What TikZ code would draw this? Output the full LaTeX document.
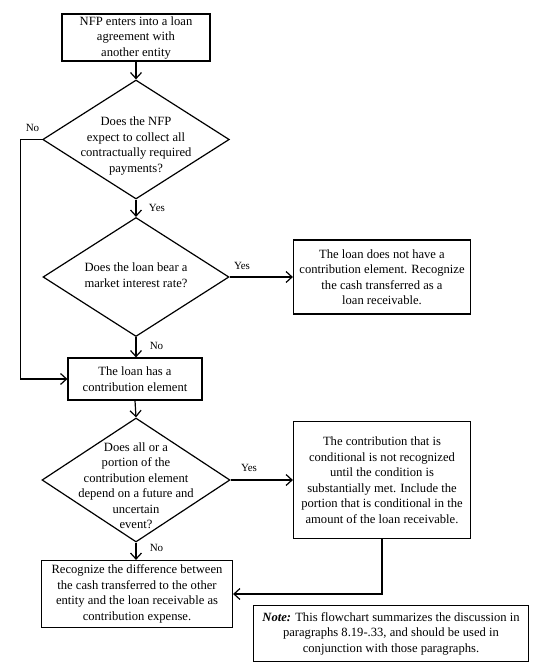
\documentclass[tikz,border=0pt]{standalone}
\usepackage{fontspec}
\setmainfont{Liberation Serif}
\usetikzlibrary{shapes.geometric,arrows.meta}
\begin{document}
\begin{tikzpicture}[x=1pt,y=-1pt,
  every node/.style={font=\fontsize{12.6}{15.5}\selectfont},
  box/.style={draw,line width=1.2pt,align=center,inner sep=0pt},
  dia/.style={draw,diamond,line width=1.2pt,inner sep=0pt},
  dtext/.style={align=center,inner sep=0pt},
  lbl/.style={font=\fontsize{11}{13}\selectfont,inner sep=0pt},
  arr/.style={line width=1.2pt,-{Straight Barb[length=6pt,width=11pt,line width=1.2pt]}}]
\useasboundingbox (0,0) rectangle (540,666);

\node[box,minimum width=148pt,minimum height=47pt] (b1) at (136,37.5) {NFP enters into a loan\\agreement with\\another entity};
\node[dia,minimum width=186.6pt,minimum height=119pt] (d1) at (136,139.5) {};
\node[dtext] (d1t) at (136,146) {Does the NFP\\expect to collect all\\contractually required\\payments?};
\node[dia,minimum width=186pt,minimum height=119pt] (d2) at (136,277) {};
\node[dtext] (d2t) at (136,275) {Does the loan bear a\\market interest rate?};
\node[box,minimum width=177pt,minimum height=74pt] (r1) at (382,277) {The loan does not have a\\contribution element. Recognize\\the cash transferred as a\\loan receivable.};
\node[box,minimum width=134pt,minimum height=42pt] (b2) at (135,379) {The loan has a\\contribution element};
\node[dia,minimum width=188pt,minimum height=124pt] (d3) at (136,480) {};
\node[dtext] (d3t) at (136,485.5) {Does all or a\\portion of the\\contribution element\\depend on a future and\\uncertain\\event?};
\node[box,minimum width=177pt,minimum height=117pt] (r2) at (382,480) {The contribution that is\\conditional is not recognized\\until the condition is\\substantially met. Include the\\portion that is conditional in the\\amount of the loan receivable.};
\node[box,minimum width=191pt,minimum height=67pt] (b3) at (137,594) {Recognize the difference between\\the cash transferred to the other\\entity and the loan receivable as\\contribution expense.};
\node[box,minimum width=275pt,minimum height=56pt] (nt) at (391,633.5) {\textbf{\textit{Note:}} This flowchart summarizes the discussion in\\paragraphs 8.19-.33, and should be used in\\conjunction with those paragraphs.};

\coordinate (nl) at (20.7,139.5);
\draw[arr] (b1.south) -- (d1.north);
\draw[arr] (d1.south) -- (d2.north);
\draw[arr] (d2.east) -- (d2.east -| r1.west);
\draw[arr] (d2.south) -- (d2.south |- b2.north);
\draw[arr] (d1.west) -- (nl) |- (b2.west);
\draw[arr] (b2.south) -- (d3.north);
\draw[arr] (d3.east) -- (d3.east -| r2.west);
\draw[arr] (d3.south) -- (d3.south |- b3.north);
\draw[arr] (r2.south) |- (b3.east);

\node[lbl] (l1) at (32.5,127.7) {No};
\node[lbl] (l2) at (157,208) {Yes};
\node[lbl] (l3) at (242,266) {Yes};
\node[lbl] (l4) at (156.5,346) {No};
\node[lbl] (l5) at (249,468) {Yes};
\node[lbl] (l6) at (156.5,548) {No};
\end{tikzpicture}
\end{document}
